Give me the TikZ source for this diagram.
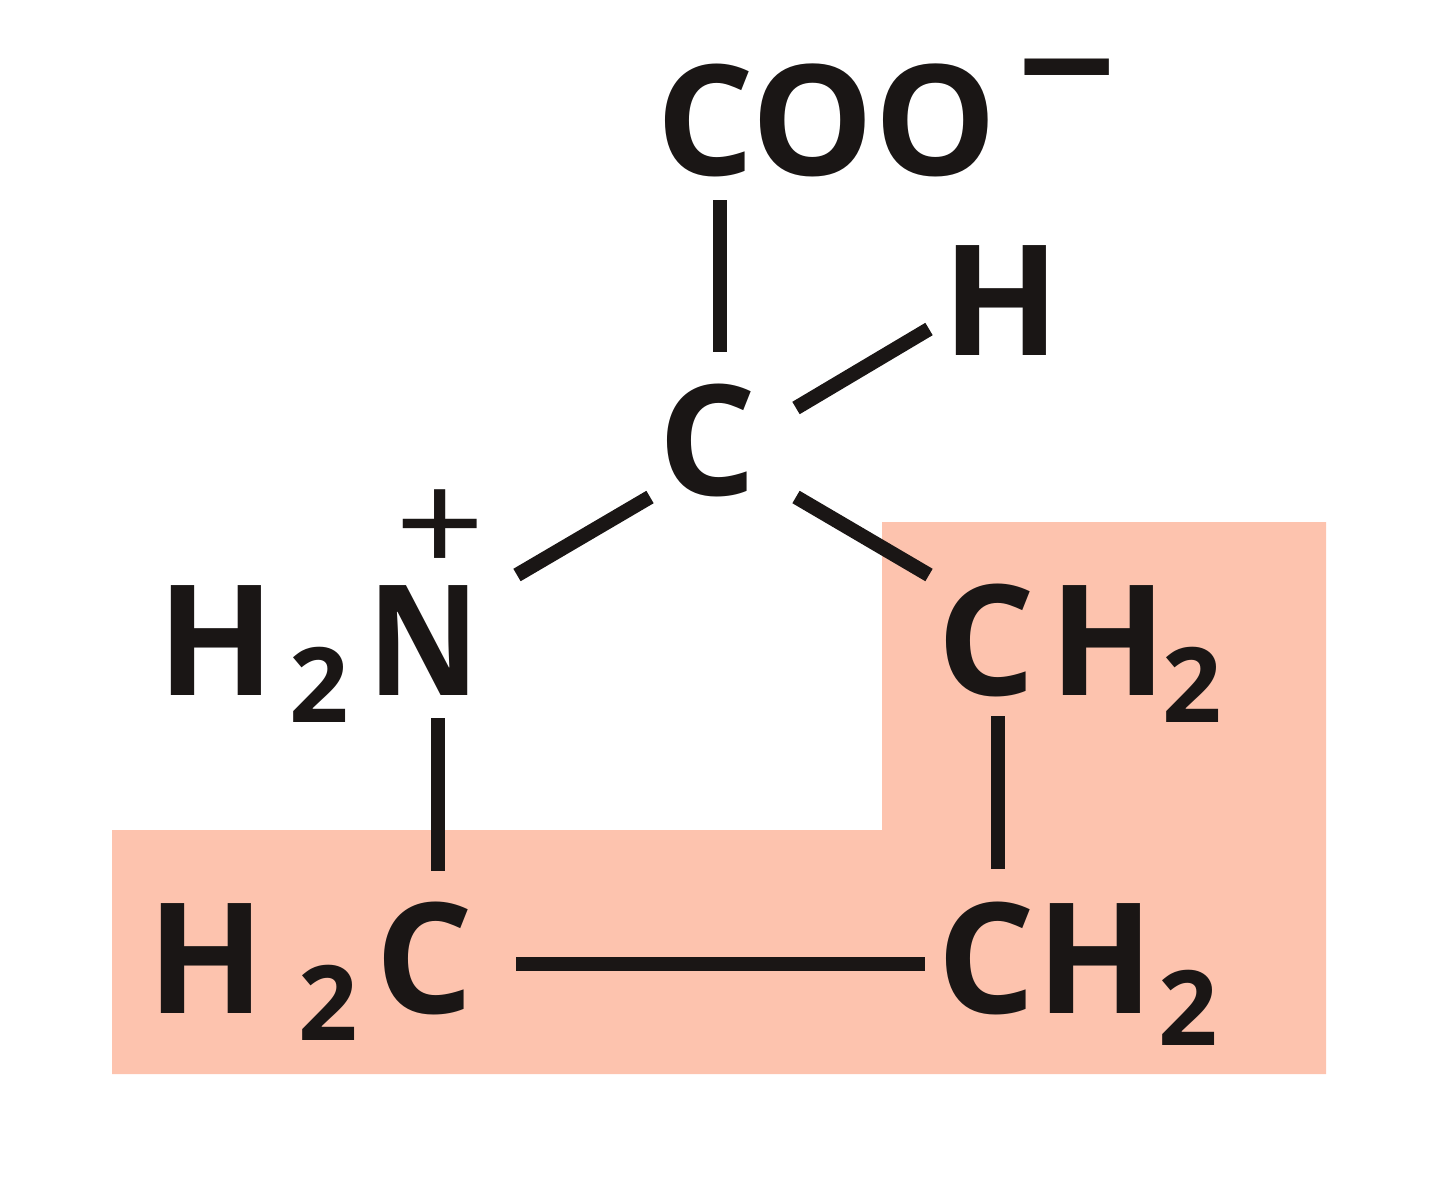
\documentclass[tikz,border=0pt]{standalone}
\usepackage{fontspec}
\setmainfont{Open Sans}
\newfontfamily\plusfont{Lato}
\definecolor{ink}{HTML}{1A1615}
\definecolor{ring}{HTML}{FDC3AE}
\tikzset{
 atom/.style={inner sep=0pt,outer sep=0pt,anchor=base,text=ink,font=\fontsize{77}{77}\bfseries\selectfont},
 sub/.style={inner sep=0pt,outer sep=0pt,anchor=base,text=ink,font=\fontsize{52}{52}\bfseries\selectfont},
 charge/.style={inner sep=0pt,outer sep=0pt,anchor=center,text=ink,font=\fontsize{77}{77}\selectfont},
 bond/.style={draw=ink,line width=7.2pt}
}
\begin{document}
\begin{tikzpicture}[x=0.5pt,y=-0.5pt]
\useasboundingbox (0,0) rectangle (1433,1200);
\fill[ring] (112,830) -- (882,830) -- (882,522) -- (1326,522) -- (1326,1074) -- (112,1074) -- cycle;
\node[atom] (coo) at (827,175) {COO};
\node[charge,xscale=1.13] (minus) at (1067,90) {\bfseries −};
\node[atom] (h) at (1001,355) {H};
\node[atom] (c) at (708,495) {C};
\node[charge,yscale=0.9] (plus) at (440,530) {\plusfont +};
\node[atom] (h1) at (216,695) {H};
\node[sub] (s1) at (319,722) {2};
\node[atom,xscale=0.9] (n) at (424,695) {N};
\node[atom] (c2) at (987,695) {C};
\node[atom] (h2) at (1108,695) {H};
\node[sub] (s2) at (1192,722) {2};
\node[atom] (h3) at (206,1013) {H};
\node[sub] (s3) at (328,1040) {2};
\node[atom] (c3) at (425,1013) {C};
\node[atom] (c4) at (987,1013) {C};
\node[atom] (h4) at (1095,1013) {H};
\node[sub] (s4) at (1188,1045) {2};
\coordinate (a1) at (720,200); \coordinate (a2) at (720,352);
\coordinate (b1) at (796,408); \coordinate (b2) at (929,329);
\coordinate (d1) at (517,575); \coordinate (d2) at (650,497);
\coordinate (e1) at (796,497); \coordinate (e2) at (929,575);
\coordinate (f1) at (438,718); \coordinate (f2) at (438,871);
\coordinate (g1) at (998,716); \coordinate (g2) at (998,869);
\coordinate (k1) at (516,964); \coordinate (k2) at (925,964);
\draw[bond] (a1) -- (a2);
\draw[bond] (b1) -- (b2);
\draw[bond] (d1) -- (d2);
\draw[bond] (e1) -- (e2);
\draw[bond] (f1) -- (f2);
\draw[bond] (g1) -- (g2);
\draw[bond] (k1) -- (k2);
\end{tikzpicture}
\end{document}
